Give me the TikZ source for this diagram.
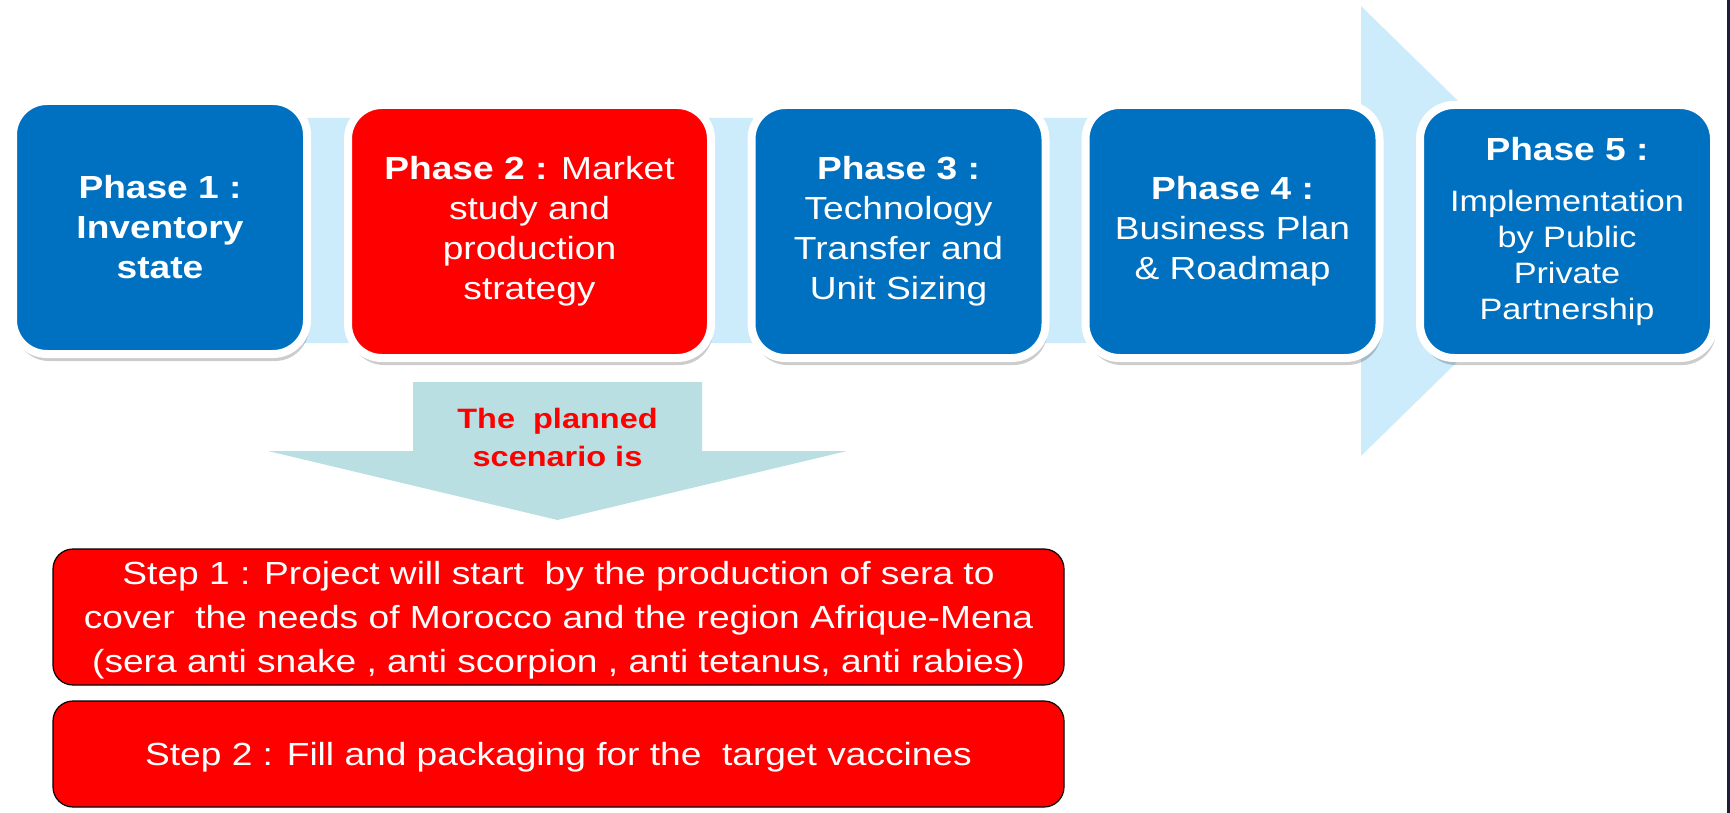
\documentclass[tikz,border=0pt]{standalone}
\usepackage{fontspec}
\setmainfont[FakeStretch=1.16]{Liberation Sans}
\usetikzlibrary{shadows}
\definecolor{phaseblue}{HTML}{0070C0}
\definecolor{phasered}{HTML}{FF0000}
\definecolor{bandblue}{HTML}{CCEBFB}
\definecolor{scenteal}{HTML}{B9DFE2}
\definecolor{edgenavy}{HTML}{1E1E3C}
\begin{document}
\begin{tikzpicture}[x=1pt, y=-1pt, line join=round,
    phasebox/.style={rounded corners=34pt, draw=white, line width=8pt, fill=phaseblue, text=white, align=center,
      minimum width=294pt, minimum height=253pt, inner sep=0pt, font=\fontsize{32}{40}\selectfont,
      drop shadow={shadow xshift=2pt, shadow yshift=-7pt, fill=black, opacity=0.2}},
    stepbox/.style={rounded corners=20pt, draw=black, line width=1.2pt, fill=phasered, text=white, align=center,
      minimum width=1011pt, inner sep=0pt, text depth=-5pt, font=\fontsize{32}{44}\selectfont}]
  \useasboundingbox (0, 0) rectangle (1730, 813);
  % Background band and arrow head
  \fill [bandblue] (100, 118) -- (1361, 118) -- (1361, 6) -- (1591, 231) -- (1361, 456) -- (1361, 343) -- (100, 343) -- cycle;
  % Phases
  \node [phasebox] (phase-1) at (160, 227.5) {\textbf{Phase 1 :}\\ \textbf{Inventory}\\ \textbf{state}};
  \node [phasebox, fill=phasered, minimum width=363pt] (phase-2) at (529.5, 231.5) {\textbf{Phase 2 :} Market\\ study and\\ production\\ strategy};
  \node [phasebox] (phase-3) at (898.5, 231.5) {\textbf{Phase 3 :}\\ Technology\\ Transfer and\\ Unit Sizing};
  \node [phasebox] (phase-4) at (1232.5, 231.5) {\textbf{Phase 4 :}\\ Business Plan\\ \& Roadmap};
  \node [phasebox, font=\fontsize{29.5}{36}\selectfont] (phase-5) at (1567, 231.5) {{\fontsize{32}{40}\selectfont\bfseries Phase 5 :}\\[15pt] Implementation\\ by Public\\ Private\\ Partnership};
  % Down arrow
  \fill [scenteal] (413, 382) -- (702, 382) -- (702, 451) -- (847, 451) -- (557.5, 520) -- (268, 451) -- (413, 451) -- cycle;
  \node [text=phasered, align=center, font=\fontsize{28}{38}\selectfont\bfseries] (scenario) at (557.5, 437) {The\ \ planned\\ scenario is};
  % Steps
  \node [stepbox, minimum height=136pt] (step-1) at (558.5, 617) {Step 1 : Project will start\ \ by the production of sera to\\ cover\ \ the needs of Morocco and the region Afrique-Mena\\ (sera anti snake , anti scorpion , anti tetanus, anti rabies)};
  \node [stepbox, minimum height=106pt] (step-2) at (558.5, 754) {Step 2 : Fill and packaging for the\ \ target vaccines};
  % Right edge
  \draw [edgenavy, line width=3pt] (1728.5, 0) -- (1728.5, 813);
\end{tikzpicture}
\end{document}
